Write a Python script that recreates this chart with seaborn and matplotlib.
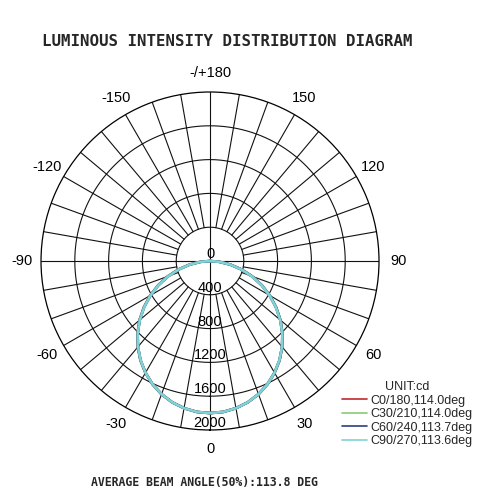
import matplotlib
matplotlib.use("Agg")
import matplotlib.pyplot as plt
import numpy as np
import pandas as pd
import seaborn as sns

# gamma angles (deg), 0 = straight down
GAMMA = [-90, -85, -80, -75, -70, -65, -60, -55, -50, -45, -40, -35, -30, -25, -20, -15, -10, -5,
         0, 5, 10, 15, 20, 25, 30, 35, 40, 45, 50, 55, 60, 65, 70, 75, 80, 85, 90]

# intensity (cd) per C-plane
C0 = [0, 111, 245, 386, 530, 675, 817, 955, 1088, 1213, 1328, 1435, 1528, 1610, 1678, 1731, 1769, 1793,
      1800, 1793, 1769, 1731, 1678, 1610, 1528, 1435, 1328, 1213, 1088, 955, 817, 675, 530, 386, 245, 111, 0]
C30 = [0, 111, 245, 386, 530, 675, 817, 955, 1088, 1213, 1328, 1435, 1528, 1610, 1678, 1731, 1769, 1793,
       1800, 1793, 1769, 1731, 1678, 1610, 1528, 1435, 1328, 1213, 1088, 955, 817, 675, 530, 386, 245, 111, 0]
C60 = [0, 109, 243, 383, 527, 672, 814, 952, 1086, 1211, 1327, 1434, 1527, 1609, 1677, 1731, 1769, 1793,
       1800, 1793, 1769, 1731, 1677, 1609, 1527, 1434, 1327, 1211, 1086, 952, 814, 672, 527, 383, 243, 109, 0]
C90 = [0, 108, 241, 381, 525, 670, 812, 950, 1084, 1210, 1326, 1433, 1527, 1609, 1677, 1731, 1769, 1793,
       1800, 1793, 1769, 1731, 1677, 1609, 1527, 1433, 1326, 1210, 1084, 950, 812, 670, 525, 381, 241, 108, 0]

SERIES = {
    "C0/180,114.0deg": C0,
    "C30/210,114.0deg": C30,
    "C60/240,113.7deg": C60,
    "C90/270,113.6deg": C90,
}
COLORS = ["#c0282d", "#8cc878", "#2b3f7f", "#7fd3d6"]

ANGLE_TICKS = [0, 30, 60, 90, 120, 150, 180, -150, -120, -90, -60, -30]
ANGLE_LABELS = ["0", "30", "60", "90", "120", "150", "-/+180", "-150", "-120", "-90", "-60", "-30"]
R_TICKS = [0, 400, 800, 1200, 1600, 2000]

sns.set_theme(style="white")
plt.rcParams["font.family"] = ["Liberation Sans", "DejaVu Sans"]

rows = []
for name, vals in SERIES.items():
    for g, v in zip(GAMMA, vals):
        rows.append({"theta": np.deg2rad(g), "cd": v, "plane": name})
df = pd.DataFrame(rows)

fig = plt.figure(figsize=(4.78, 4.93), dpi=100)
ax = fig.add_axes([0.0858, 0.1278, 0.7071, 0.6856], projection="polar")
ax.set_theta_zero_location("S")
ax.set_theta_direction(1)
ax.set_rlim(0, 2000)
ax.grid(False)
ax.set_xticks([])
ax.set_yticks([])
ax.spines["polar"].set_color("black")
ax.spines["polar"].set_linewidth(0.9)

# grid: rings + spokes
full = np.linspace(0, 2 * np.pi, 361)
for r in R_TICKS[1:-1]:
    ax.plot(full, np.full_like(full, r), color="#111111", lw=0.8, zorder=1)
for a in range(0, 360, 10):
    t = np.deg2rad(a)
    r0 = 0 if a % 90 == 0 else 400
    ax.plot([t, t], [r0, 2000], color="#111111", lw=0.8, zorder=1)

sns.lineplot(data=df, x="theta", y="cd", hue="plane", palette=COLORS, sort=False,
             estimator=None, lw=1.9, ax=ax, zorder=3)
handles, labels = ax.get_legend_handles_labels()
ax.get_legend().remove()
ax.set_xlabel("")
ax.set_ylabel("")

for a, lab in zip(ANGLE_TICKS, ANGLE_LABELS):
    ax.text(np.deg2rad(a), 2230, lab, ha="center", va="center", fontsize=10.5, color="black")
for r in R_TICKS:
    ax.text(0, r, str(r), ha="center", va="bottom", fontsize=10.5, color="black", zorder=4)

leg = fig.legend(handles, labels, title="UNIT:cd", loc="upper left", bbox_to_anchor=(0.705, 0.237),
                 frameon=False, fontsize=9, title_fontsize=9, handlelength=2.0, handletextpad=0.3,
                 labelspacing=0.12, borderaxespad=0)
for line in leg.get_lines():
    line.set_linewidth(1.2)

fig.text(0.475, 0.915, "LUMINOUS INTENSITY DISTRIBUTION DIAGRAM", ha="center", va="center",
         fontsize=11.3, fontweight="bold", family="DejaVu Sans Mono")
fig.text(0.427, 0.022, "AVERAGE BEAM ANGLE(50%):113.8 DEG", ha="center", va="center",
         fontsize=8.3, fontweight="bold", family="DejaVu Sans Mono")

fig.savefig("out.png", dpi=100)
